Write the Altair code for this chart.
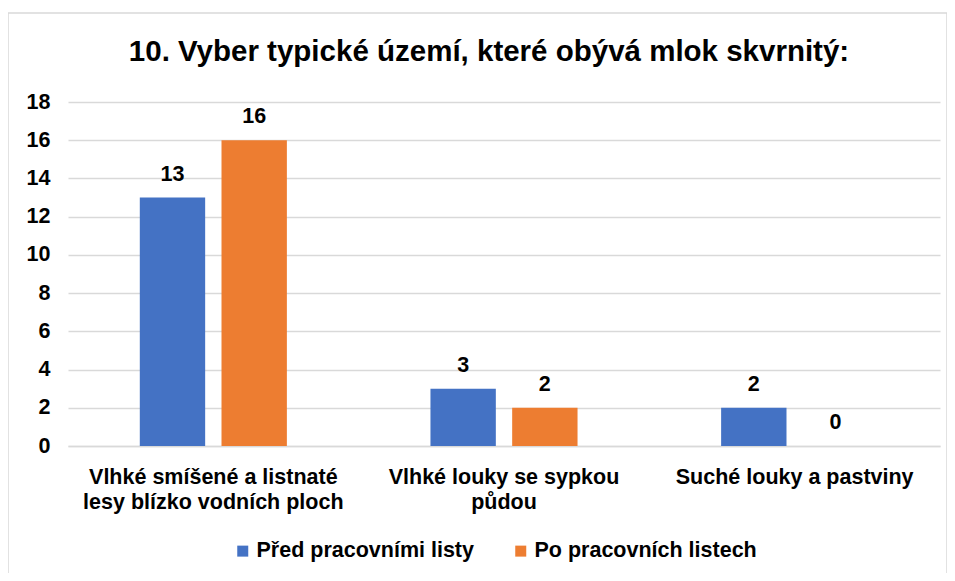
import altair as alt
import pandas as pd

categories = [
    "Vlhké smíšené a listnaté\nlesy blízko vodních ploch",
    "Vlhké louky se sypkou\npůdou",
    "Suché louky a pastviny",
]
series = ["Před pracovními listy", "Po pracovních listech"]
before_vals = [13, 3, 2]
after_vals = [16, 2, 0]
colors = ["#4472C4", "#ED7D31"]
y_ticks = [0, 2, 4, 6, 8, 10, 12, 14, 16, 18]
title_text = "10. Vyber typické území, které obývá mlok skvrnitý:"

rows = []
for c, b, a in zip(categories, before_vals, after_vals):
    rows.append({"cat": c, "series": series[0], "value": b})
    rows.append({"cat": c, "series": series[1], "value": a})
df = pd.DataFrame(rows)

FONT = "Liberation Sans"
FS = 21.5

x_enc = alt.X(
    "cat:N",
    sort=categories,
    scale=alt.Scale(paddingInner=0.494, paddingOuter=0.247),
    axis=alt.Axis(
        title=None,
        labelAngle=0,
        labelExpr="split(datum.label, '\\n')",
        labelFont=FONT,
        labelFontSize=FS,
        labelFontWeight="bold",
        labelColor="#000000",
        labelPadding=20,
        labelLineHeight=25,
        labelLimit=0,
        ticks=False,
        domainColor="#d9d9d9",
        domainWidth=1.5,
        labelBaseline="top",
    ),
)
xoff_enc = alt.XOffset(
    "series:N", sort=series, scale=alt.Scale(paddingInner=0.2, paddingOuter=0)
)
y_enc = alt.Y(
    "value:Q",
    scale=alt.Scale(domain=[0, 18], nice=False),
    axis=alt.Axis(
        title=None,
        values=y_ticks,
        labelFont=FONT,
        labelFontSize=FS,
        labelFontWeight="bold",
        labelColor="#000000",
        labelPadding=18,
        labelOverlap=False,
        ticks=False,
        domain=False,
        gridColor="#d9d9d9",
        gridWidth=1.5,
    ),
)

bars = alt.Chart(df).mark_bar().encode(
    x=x_enc,
    xOffset=xoff_enc,
    y=y_enc,
    color=alt.Color(
        "series:N",
        sort=series,
        scale=alt.Scale(domain=series, range=colors),
        legend=alt.Legend(
            title=None,
            orient="none",
            direction="horizontal",
            legendX=164,
            legendY=438,
            symbolType="square",
            symbolSize=121,
            symbolStrokeWidth=0,
            labelFont=FONT,
            labelFontSize=FS,
            labelFontWeight="bold",
            labelColor="#000000",
            labelLimit=0,
            columnPadding=36,
            labelOffset=3,
        ),
    ),
)

labels = alt.Chart(df).mark_text(
    font=FONT, fontSize=FS, fontWeight="bold", color="#000000",
    baseline="bottom", dy=-12,
).encode(
    x=x_enc,
    xOffset=xoff_enc,
    y=y_enc,
    text=alt.Text("value:Q"),
)

border = alt.Chart(pd.DataFrame({"a": [0]})).mark_rect(
    fill=None, stroke="#d9d9d9", strokeWidth=1.5
).encode(
    x=alt.value(-60), x2=alt.value(879),
    y=alt.value(-89), y2=alt.value(476),
)

chart = alt.layer(border, bars, labels).properties(
    width=872,
    height=344,
    background="white",
    padding={"left": 60, "top": 94, "right": 7, "bottom": 127},
    autosize=alt.AutoSizeParams(type="none"),
    title=alt.Title(
        title_text,
        font=FONT,
        fontSize=29.5,
        fontWeight="bold",
        color="#000000",
        anchor="middle",
        frame="group",
        baseline="alphabetic",
        offset=-78,
        dx=-15,
    ),
).configure_view(strokeWidth=0)

chart.save("out.html", embed_options={"renderer": "svg", "actions": False})
